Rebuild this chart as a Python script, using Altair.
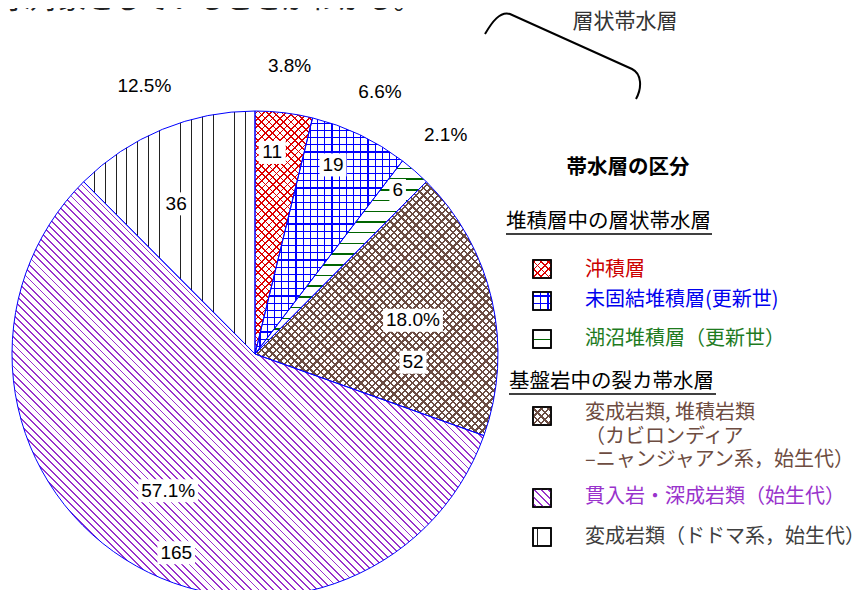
import math
import altair as alt
import pandas as pd

# ---------------- data ----------------
keys = ["alluvium", "unconsolidated", "lacustrine", "metased", "intrusive", "dodoma"]
categories = [
    "沖積層",
    "未固結堆積層(更新世)",
    "湖沼堆積層（更新世）",
    "変成岩類, 堆積岩類",
    "貫入岩・深成岩類（始生代）",
    "変成岩類（ドドマ系，始生代）",
]
counts = [11, 19, 6, 52, 165, 36]

# ---------------- layout / style (not data) ----------------
CX, CY, R = 247, 346, 243          # pie centre & radius (view px)
pct_r = [290, 290, 290, 162, 162, 290]
pct_dx = [0, 0, 0, 0, 0, 0]
pct_dy = [0, 0, 0, 2, 0, 0]
val_r = [203, 204, 217, 162, 162, 170]
val_dx = [-7, -10, 0, 0, 8, -14]
val_dy = [0, -5, 0, 44, 62, 7]

hatch_color = ["#dd0000", "#0000ff", "#006400", "#6b4c42", "#9932cc", "#222222"]
hatch_fams = [
    [(45, 5.2, 1.2), (135, 5.2, 1.2)],
    [(0, 7.2, 1.1), (90, 7.2, 1.1)],
    [(90, 10.7, 1.5)],
    [(45, 5.2, 1.7), (135, 5.2, 1.7)],
    [(135, 5.2, 1.3)],
    [(0, 10.8, 1.0)],
]
text_color = ["#cc0000", "#0000ee", "#1e7b1e", "#6d4c41", "#9933cc", "#404040"]
legend_box_y = [261, 293, 331, 408, 490, 529]
LEG_BOX_X = 534
LEG_TEXT_X = 577
legend_text_y = [262, 292, 331, 405, 489, 529]

CLEAR = "rgba(255,255,255,0)"
FONT_JP = "Noto Sans CJK JP"
FONT_NUM = "Liberation Sans"


def hatch_fill(bx, by, w, h, deg, period, lw, color):
    a = math.radians(deg)
    nx, ny = math.cos(a), math.sin(a)
    corners = [(0, 0), (1, 0), (0, 1), (1, 1)]
    fv = [(nx * (bx + u * w) + ny * (by + v * h)) / period for u, v in corners]
    fmin, fmax = min(fv), max(fv)
    F = fmax - fmin
    u0, v0 = corners[fv.index(fmin)]
    mx, my = nx * w / period, ny * h / period
    mm = mx * mx + my * my
    dx, dy = mx * F / mm, my * F / mm
    hw = lw / 2 / period
    stops = [{"offset": 0, "color": CLEAR}]
    k = math.floor(fmin - hw)
    while k - hw <= fmax:
        t0 = max(0.0, (k - hw - fmin) / F)
        t1 = min(1.0, (k + hw - fmin) / F)
        if t1 > 0 and t0 < 1:
            t0, t1 = round(t0, 5), round(t1, 5)
            stops += [
                {"offset": t0, "color": CLEAR},
                {"offset": t0, "color": color},
                {"offset": t1, "color": color},
                {"offset": t1, "color": CLEAR},
            ]
        k += 1
    stops.append({"offset": 1, "color": CLEAR})
    return {"gradient": "linear", "x1": u0, "y1": v0,
            "x2": round(u0 + dx, 6), "y2": round(v0 + dy, 6), "stops": stops}


def arc_bbox(a0, a1):
    pts = [(CX, CY)]
    angs = [a0, a1] + [k * math.pi / 2 for k in range(5) if a0 < k * math.pi / 2 < a1]
    for a in angs:
        pts.append((CX + R * math.sin(a), CY - R * math.cos(a)))
    xs = [p[0] for p in pts]
    ys = [p[1] for p in pts]
    return min(xs), min(ys), max(xs) - min(xs), max(ys) - min(ys)


total = sum(counts)
df = pd.DataFrame({
    "key": keys, "cat": categories, "value": counts, "order": list(range(len(keys))),
    "pr": pct_r, "pdx": pct_dx, "pdy": pct_dy,
    "vr": val_r, "vdx": val_dx, "vdy": val_dy,
})

theta = alt.Theta("v0:Q", stack=None, scale=alt.Scale(domain=[0, total], range=[0, 2 * math.pi]))
theta2 = alt.Theta2("v1:Q")


def stacked():
    return alt.Chart(df).transform_stack(
        stack="value", groupby=[], as_=["v0", "v1"], sort=[alt.SortField("order", order="ascending")]
    )


layers = []
# white base
layers.append(stacked().mark_arc(radius=R, fill="white").encode(
    theta=theta, theta2=theta2, x=alt.value(CX), y=alt.value(CY)))

# hatching
cum = 0
for i, key in enumerate(keys):
    a0 = 2 * math.pi * cum / total
    cum += counts[i]
    a1 = 2 * math.pi * cum / total
    bx, by, w, h = arc_bbox(a0, a1)
    for deg, per, lw in hatch_fams[i]:
        g = hatch_fill(bx, by, w, h, deg, per, lw, hatch_color[i])
        layers.append(
            stacked().transform_filter(alt.datum.key == key)
            .mark_arc(radius=R, fill=g)
            .encode(theta=theta, theta2=theta2, x=alt.value(CX), y=alt.value(CY))
        )

# blue outlines
layers.append(stacked().mark_arc(radius=R, fillOpacity=0, stroke="#0000ff", strokeWidth=1).encode(
    theta=theta, theta2=theta2, x=alt.value(CX), y=alt.value(CY)))

# labels
lab = alt.Chart(df).transform_joinaggregate(total="sum(value)").transform_stack(
    stack="value", groupby=[], as_=["v0", "v1"], sort=[alt.SortField("order", order="ascending")]
).transform_calculate(
    ang="PI*(datum.v0+datum.v1)/datum.total",
    pct="format(datum.value/datum.total, '.1%')",
    vtxt="toString(datum.value)",
).transform_calculate(
    px=f"{CX}+datum.pr*sin(datum.ang)+datum.pdx",
    py=f"{CY}-datum.pr*cos(datum.ang)+datum.pdy",
    vx=f"{CX}+datum.vr*sin(datum.ang)+datum.vdx",
    vy=f"{CY}-datum.vr*cos(datum.ang)+datum.vdy",
    pw="10.56*length(datum.pct)+(indexof(datum.pct,'.')>=0?-5.28:0)+(indexof(datum.pct,'%')>=0?6.34:0)+6",
    vw="10.56*length(datum.vtxt)+6",
).transform_calculate(
    pbox="'M'+(-datum.pw/2)+',-11.5H'+(datum.pw/2)+'V11.5H'+(-datum.pw/2)+'Z'",
    vbox="'M'+(-datum.vw/2)+',-11.5H'+(datum.vw/2)+'V11.5H'+(-datum.vw/2)+'Z'",
)

for xf, yf, sf, tf in [("px", "py", "pbox", "pct"), ("vx", "vy", "vbox", "vtxt")]:
    layers.append(lab.mark_point(size=4, filled=True, fill="white", opacity=1, strokeWidth=0).encode(
        x=alt.X(f"{xf}:Q", scale=None), y=alt.Y(f"{yf}:Q", scale=None),
        shape=alt.Shape(f"{sf}:N", scale=None)))
    layers.append(lab.mark_text(font=FONT_NUM, fontSize=19, color="black", baseline="middle", align="center").encode(
        x=alt.X(f"{xf}:Q", scale=None), y=alt.Y(f"{yf}:Q", scale=None), text=f"{tf}:N"))

# legend boxes
for i, key in enumerate(keys):
    yb = legend_box_y[i]
    layers.append(alt.Chart(df).transform_filter(alt.datum.key == key).mark_square(
        size=324, fill="white", opacity=1, stroke="black", strokeWidth=1.5).encode(
        x=alt.value(LEG_BOX_X), y=alt.value(yb)))
    for deg, per, lw in hatch_fams[i]:
        g = hatch_fill(LEG_BOX_X - 9, yb - 9, 18, 18, deg, per, lw, hatch_color[i])
        layers.append(alt.Chart(df).transform_filter(alt.datum.key == key).mark_square(
            size=324, fill=g, opacity=1).encode(x=alt.value(LEG_BOX_X), y=alt.value(yb)))
    layers.append(alt.Chart(df).transform_filter(alt.datum.key == key).mark_square(
        size=324, fillOpacity=0, opacity=1, stroke="black", strokeWidth=1.5).encode(
        x=alt.value(LEG_BOX_X), y=alt.value(yb)))

# legend texts
leg_lines = [categories[0], categories[1], categories[2], categories[3],
             "（カビロンディア", "–ニャンジャアン系，始生代）", categories[4], categories[5]]
leg_y = [legend_text_y[0], legend_text_y[1], legend_text_y[2], legend_text_y[3], 429, 452,
         legend_text_y[4], legend_text_y[5]]
leg_c = [text_color[0], text_color[1], text_color[2], text_color[3], text_color[3], text_color[3],
         text_color[4], text_color[5]]
legdf = pd.DataFrame({"t": leg_lines, "y": leg_y, "c": leg_c})
layers.append(alt.Chart(legdf).mark_text(font=FONT_JP, fontSize=20, align="left", baseline="middle").encode(
    x=alt.value(LEG_TEXT_X), y=alt.Y("y:Q", scale=None), text="t:N", color=alt.Color("c:N", scale=None)))

one = pd.DataFrame({"k": [0]})
heads = pd.DataFrame({"t": ["堆積層中の層状帯水層", "基盤岩中の裂カ帯水層"], "x": [498, 501], "y": [214, 374]})
layers.append(alt.Chart(heads).mark_text(font=FONT_JP, fontSize=20.5, align="left", baseline="middle", color="black").encode(
    x=alt.X("x:Q", scale=None), y=alt.Y("y:Q", scale=None), text="t:N"))
for x1, x2, yy in [(498, 704, 226), (501, 708, 386)]:
    layers.append(alt.Chart(one).mark_rule(color="black", strokeWidth=1.5).encode(
        x=alt.value(x1), x2=alt.value(x2), y=alt.value(yy)))
layers.append(alt.Chart(one).mark_text(text="帯水層の区分", font=FONT_JP, fontSize=20.5, fontWeight="bold",
                                       align="center", baseline="middle", color="black").encode(
    x=alt.value(620), y=alt.value(160)))

# bracket annotation
layers.append(alt.Chart(one).mark_point(
    shape="M-78,-22C-71,-34,-63,-45,-53,-42L69,13C79,18,79,32,73,43",
    size=4, filled=False, stroke="black", strokeWidth=2, opacity=1).encode(
    x=alt.value(555), y=alt.value(48)))
layers.append(alt.Chart(one).mark_text(text="層状帯水層", font=FONT_JP, fontSize=21, color="#333333",
                                       align="center", baseline="middle").encode(
    x=alt.value(617), y=alt.value(14)))
# cropped document line at top
layers.append(alt.Chart(one).mark_text(text="水対象としていることがわかる。", font=FONT_JP, fontSize=28,
                                       color="#222222", align="left", baseline="alphabetic").encode(
    x=alt.value(-6), y=alt.value(1)))

chart = alt.layer(*layers).properties(
    width=844, height=582, autosize=alt.AutoSizeParams(type="none"), padding=0,
    background="white",
).configure_view(stroke=None)

chart.save("out.html", embed_options={"renderer": "svg", "actions": False})
